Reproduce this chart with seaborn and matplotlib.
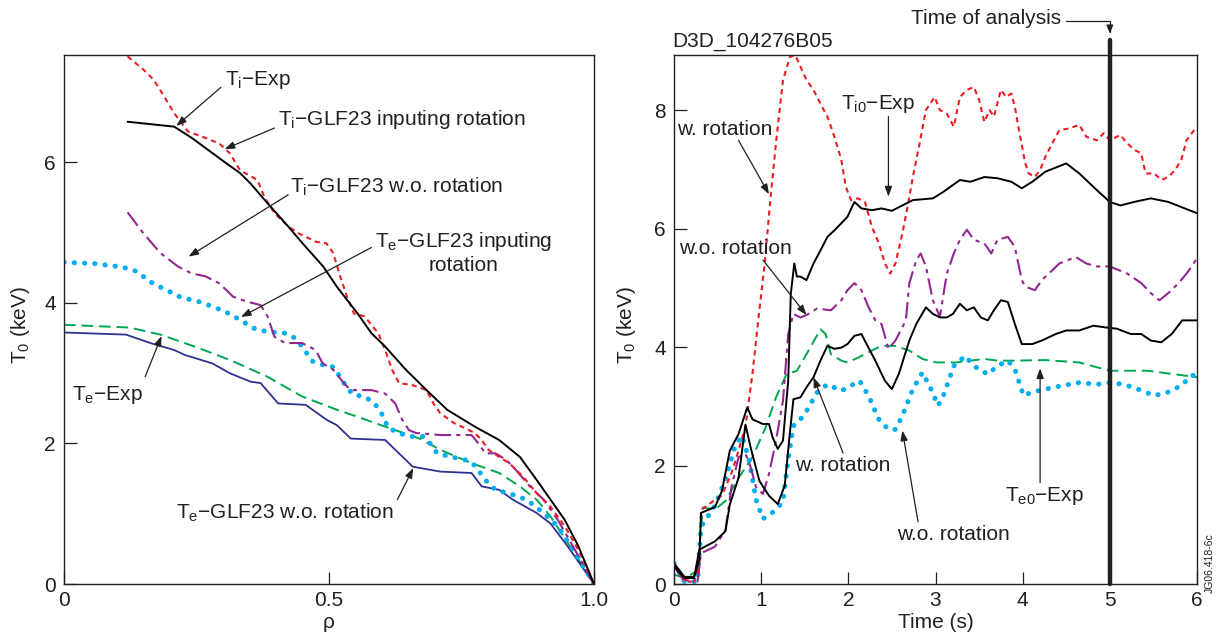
import matplotlib
matplotlib.use("Agg")
import matplotlib.pyplot as plt
import seaborn as sns

# ---------------- data: left panel (profiles vs rho) ----------------
rho_ti_exp = [.12, .208, .241, .306, .332, .352, .384, .423, .45, .489, .515, .554, .58, .606, .645,
              .684, .723, .775, .821, .86, .892, .918, .945, .971, 1.0]
ti_exp = [6.58, 6.51, 6.35, 5.99, 5.85, 5.70, 5.42, 5.09, 4.85, 4.52, 4.23, 3.85, 3.57, 3.38, 3.05,
          2.76, 2.48, 2.24, 2.05, 1.81, 1.48, 1.20, .91, .53, 0]

rho_ti_rot = [.11, .117, .15, .169, .189, .208, .234, .26, .293, .313, .332, .365, .378, .397, .423,
              .443, .476, .495, .508, .521, .534, .547, .567, .583, .593, .606, .619, .632, .658, .684,
              .697, .71, .736, .756, .775, .788, .801, .821, .84, .866, .892, .918, .945, .971, 1.0]
ti_rot = [7.62, 7.53, 7.32, 7.18, 6.94, 6.70, 6.44, 6.37, 6.27, 6.13, 5.89, 5.75, 5.51, 5.28, 5.09,
          4.99, 4.87, 4.85, 4.71, 4.38, 4.09, 3.85, 3.81, 3.66, 3.57, 3.33, 3.05, 2.86, 2.83, 2.76,
          2.57, 2.43, 2.29, 2.22, 2.15, 2.05, 1.91, 1.81, 1.72, 1.53, 1.29, 1.10, .82, .48, 0]

rho_ti_norot = [.12, .15, .182, .215, .241, .267, .293, .319, .345, .371, .384, .397, .417, .449, .475,
                .488, .508, .528, .541, .58, .606, .625, .638, .651, .664, .71, .769, .782, .795, .814,
                .834, .853, .879, .905, .932, .957, 1.0]
ti_norot = [5.29, 4.99, 4.71, 4.52, 4.42, 4.38, 4.28, 4.09, 4.02, 3.97, 3.81, 3.52, 3.43, 3.43, 3.33,
            3.14, 3.05, 2.86, 2.76, 2.76, 2.71, 2.57, 2.34, 2.19, 2.15, 2.12, 2.12, 2.00, 1.86, 1.86,
            1.77, 1.62, 1.39, 1.20, .91, .58, 0]

rho_te_rot = [0, .059, .111, .137, .163, .189, .221, .254, .28, .306, .332, .358, .384, .417, .436,
              .449, .469, .488, .508, .521, .534, .547, .567, .586, .599, .612, .632, .651, .677, .691,
              .704, .73, .756, .775, .795, .814, .84, .873, .905, .932, .957, 1.0]
te_rot = [4.58, 4.56, 4.51, 4.45, 4.30, 4.20, 4.08, 4.02, 3.95, 3.87, 3.76, 3.64, 3.59, 3.57, 3.50,
          3.38, 3.17, 3.12, 3.09, 2.95, 2.79, 2.69, 2.67, 2.57, 2.43, 2.22, 2.15, 2.10, 2.10, 2.00,
          1.86, 1.81, 1.77, 1.69, 1.48, 1.34, 1.29, 1.20, 1.01, .82, .53, 0]

rho_te_exp = [0, .124, .182, .254, .319, .384, .449, .515, .554, .606, .671, .71, .769, .821, .86,
              .892, .918, .951, 1.0]
te_exp = [3.69, 3.65, 3.55, 3.36, 3.17, 2.95, 2.67, 2.48, 2.38, 2.24, 2.07, 1.91, 1.72, 1.58, 1.39,
          1.20, .96, .58, 0]

rho_te_norot = [0, .117, .163, .208, .228, .28, .313, .352, .371, .404, .456, .495, .515, .541, .606,
                .632, .658, .71, .769, .788, .821, .847, .892, .918, .951, 1.0]
te_norot = [3.58, 3.55, 3.43, 3.33, 3.26, 3.14, 3.00, 2.88, 2.86, 2.57, 2.55, 2.34, 2.26, 2.07, 2.05,
            1.86, 1.67, 1.60, 1.58, 1.39, 1.34, 1.20, 1.01, .86, .53, 0]

# ---------------- data: right panel (central values vs time) ----------------
t_ti_rot = [0, .12, .23, .29, .31, .47, .55, .66, .74, .82, .90, .97, 1.04, 1.10, 1.17,
            1.25, 1.33, 1.39, 1.47, 1.52, 1.60, 1.68, 1.76, 1.84, 1.92, 1.97, 2.03, 2.11, 2.19, 2.27,
            2.35, 2.42, 2.48, 2.54, 2.62, 2.68, 2.74, 2.81, 2.89, 2.99, 3.05, 3.13, 3.21, 3.28, 3.36,
            3.44, 3.50, 3.56, 3.62, 3.67, 3.75, 3.81, 3.87, 3.91, 3.95, 4.03, 4.07, 4.14, 4.20, 4.26,
            4.34, 4.42, 4.53, 4.65, 4.73, 4.85, 4.93, 5.0, 5.12, 5.20, 5.28, 5.36, 5.41, 5.51, 5.59,
            5.67, 5.75, 5.82, 5.88, 5.94, 6.0]
ti0_rot = [.35, .07, .04, .3, 1.25, 1.42, 1.5, 1.87, 2.25, 2.66, 3.55, 4.5, 5.4, 6.4, 7.45,
           8.5, 8.9, 8.93, 8.67, 8.51, 8.34, 8.11, 7.89, 7.55, 7.16, 6.71, 6.48, 6.51, 6.45, 6.03,
           5.75, 5.41, 5.24, 5.41, 5.92, 6.37, 6.87, 7.38, 8.0, 8.22, 8.0, 7.94, 7.72, 8.22, 8.34,
           8.39, 8.17, 7.80, 8.0, 7.89, 8.34, 8.22, 8.28, 8.06, 7.72, 7.10, 6.93, 6.87, 6.99, 7.21,
           7.44, 7.66, 7.69, 7.75, 7.55, 7.49, 7.61, 7.49, 7.58, 7.44, 7.33, 7.27, 6.93, 6.93, 6.82,
           6.87, 6.99, 7.16, 7.49, 7.61, 7.72]

t_ti_exp = [0, .12, .23, .29, .31, .47, .55, .64, .74, .84, .90, 1.02, 1.09, 1.13, 1.19,
            1.25, 1.31, 1.34, 1.38, 1.41, 1.45, 1.52, 1.60, 1.68, 1.76, 1.84, 1.92, 1.99, 2.07, 2.15,
            2.27, 2.38, 2.50, 2.62, 2.74, 2.97, 3.09, 3.28, 3.40, 3.56, 3.71, 3.87, 3.99, 4.11, 4.26,
            4.50, 4.65, 4.85, 5.0, 5.12, 5.28, 5.47, 5.67, 5.86, 6.0]
ti0_exp = [.35, .12, .12, .4, 1.2, 1.3, 1.57, 2.25, 2.53, 2.98, 2.78, 2.70, 2.70, 2.48, 2.28,
           2.42, 3.43, 4.9, 5.41, 5.19, 5.19, 5.13, 5.41, 5.63, 5.86, 5.97, 6.09, 6.20, 6.45, 6.34,
           6.31, 6.34, 6.30, 6.39, 6.48, 6.51, 6.62, 6.82, 6.79, 6.87, 6.85, 6.79, 6.68, 6.79, 6.96,
           7.10, 6.93, 6.65, 6.45, 6.39, 6.45, 6.51, 6.45, 6.34, 6.26]

t_te_rot = [0, .12, .23, .29, .47, .59, .64, .74, .82, .88, .98, 1.09, 1.19, 1.27, 1.33,
            1.37, 1.45, 1.52, 1.60, 1.68, 1.76, 1.84, 1.92, 1.99, 2.07, 2.15, 2.21, 2.31, 2.42, 2.50,
            2.58, 2.70, 2.78, 2.89, 2.97, 3.05, 3.13, 3.20, 3.28, 3.36, 3.44, 3.52, 3.60, 3.67, 3.75,
            3.83, 3.91, 3.99, 4.11, 4.22, 4.38, 4.50, 4.65, 4.81, 4.96, 5.08, 5.24, 5.36, 5.47, 5.59,
            5.71, 5.83, 6.0]
te0_rot = [.3, .1, .1, .58, .72, .89, 1.34, 1.79, 2.69, 2.3, 1.74, 1.49, 1.35, 1.66, 2.56,
           3.12, 3.15, 3.32, 3.49, 3.77, 4.02, 3.97, 3.99, 4.05, 4.19, 4.22, 4.05, 3.77, 3.43, 3.29,
           3.55, 4.11, 4.39, 4.67, 4.56, 4.50, 4.50, 4.56, 4.73, 4.62, 4.67, 4.50, 4.45, 4.62, 4.79,
           4.76, 4.39, 4.05, 4.05, 4.11, 4.22, 4.28, 4.28, 4.36, 4.33, 4.31, 4.22, 4.22, 4.11, 4.08,
           4.22, 4.45, 4.45]

t_ti_norot = [0, .12, .27, .31, .47, .59, .66, .74, .82, .88, .94, 1.02, 1.09, 1.17, 1.25,
              1.31, 1.37, 1.45, 1.52, 1.64, 1.80, 1.92, 1.99, 2.07, 2.15, 2.23, 2.31, 2.38, 2.46, 2.54,
              2.66, 2.70, 2.78, 2.83, 2.89, 2.97, 3.05, 3.13, 3.21, 3.28, 3.36, 3.44, 3.56, 3.64, 3.71,
              3.83, 3.91, 3.99, 4.03, 4.14, 4.22, 4.30, 4.42, 4.61, 4.73, 4.85, 5.0, 5.20, 5.36, 5.47,
              5.57, 5.67, 5.79, 5.88, 5.94, 6.0]
ti0_norot = [.3, .04, .04, .52, .63, .91, 1.64, 2.14, 2.2, 1.97, 1.64, 1.52, 1.86, 2.42, 3.09,
             4.22, 4.56, 4.50, 4.54, 4.65, 4.62, 4.79, 4.96, 5.08, 4.96, 4.68, 4.45, 4.39, 3.97, 4.11,
             4.45, 5.08, 5.47, 5.58, 5.36, 4.79, 4.51, 5.24, 5.58, 5.81, 5.98, 5.81, 5.75, 5.58, 5.81,
             5.86, 5.69, 5.13, 5.02, 4.96, 5.13, 5.24, 5.41, 5.52, 5.41, 5.36, 5.36, 5.24, 5.08, 4.91,
             4.79, 4.91, 5.08, 5.24, 5.36, 5.50]

t_te_exp = [0, .12, .27, .33, .47, .59, .74, .90, 1.05, 1.17, 1.29, 1.41, 1.52, 1.68, 1.74,
            1.80, 1.92, 1.99, 2.11, 2.27, 2.38, 2.54, 2.70, 2.85, 3.01, 3.24, 3.40, 3.56, 3.71, 3.87,
            4.26, 4.65, 4.85, 5.0, 5.43, 5.75, 6.0]
te0_exp = [.16, .1, .22, 1.29, 1.26, 1.40, 1.79, 2.14, 2.64, 3.15, 3.54, 3.60, 3.88, 4.30, 4.22,
           3.88, 3.77, 3.74, 3.82, 3.94, 4.02, 4.02, 3.94, 3.80, 3.74, 3.74, 3.77, 3.80, 3.77, 3.77,
           3.78, 3.74, 3.66, 3.60, 3.60, 3.54, 3.49]

t_te_norot = [0, .12, .27, .31, .47, .59, .70, .78, .86, .94, 1.02, 1.13, 1.25, 1.31, 1.37,
              1.49, 1.64, 1.76, 1.92, 2.03, 2.13, 2.23, 2.35, 2.46, 2.54, 2.62, 2.74, 2.85, 2.93, 3.03,
              3.09, 3.21, 3.34, 3.44, 3.60, 3.71, 3.83, 3.91, 4.01, 4.11, 4.26, 4.46, 4.65, 4.85, 5.0,
              5.16, 5.32, 5.51, 5.67, 5.82, 5.94, 6.0]
te0_norot = [.35, .04, .04, .97, 1.32, 1.77, 2.33, 2.50, 2.11, 1.43, 1.10, 1.21, 1.38, 2.11, 2.67,
             2.84, 3.23, 3.37, 3.26, 3.35, 3.43, 3.18, 2.78, 2.61, 2.61, 2.84, 3.29, 3.57, 3.35, 3.01,
             3.18, 3.68, 3.85, 3.68, 3.54, 3.68, 3.77, 3.63, 3.18, 3.24, 3.29, 3.35, 3.40, 3.37, 3.40,
             3.37, 3.29, 3.18, 3.24, 3.35, 3.52, 3.52]

analysis_time = 5.0
left_xticks = [0, 0.5, 1.0]
left_xticklabels = ["0", "0.5", "1.0"]
left_yticks = [0, 2, 4, 6]
right_xticks = [0, 1, 2, 3, 4, 5, 6]
right_yticks = [0, 2, 4, 6, 8]

# ---------------- style ----------------
sns.set_style("ticks")
plt.rcParams['font.family'] = ['Liberation Sans', 'DejaVu Sans']
plt.rcParams['mathtext.fontset'] = 'custom'
plt.rcParams['mathtext.rm'] = 'Liberation Sans'
plt.rcParams['mathtext.it'] = 'Liberation Sans'

INK = '#231f20'
RED = '#ed1c24'
PURPLE = '#92278f'
CYAN = '#00aeef'
GREEN = '#00a651'
NAVY = '#2e3192'
FS = 15

fig = plt.figure(figsize=(12.18, 6.39), dpi=100)
axL = fig.add_axes([64 / 1218, 55 / 639, 530 / 1218, 529 / 639])
axR = fig.add_axes([674 / 1218, 55 / 639, 523 / 1218, 529 / 639])

styles = {
    'red': dict(color=RED, lw=1.5, linestyle=(0, (2.5, 2))),
    'black': dict(color='black', lw=1.4, linestyle='-'),
    'purple': dict(color=PURPLE, lw=1.5, linestyle=(0, (8, 2.5, 2, 2.5))),
    'cyan': dict(color=CYAN, lw=3.6, linestyle=(0, (0.05, 2.0)), dash_capstyle='round'),
    'green': dict(color=GREEN, lw=1.4, linestyle=(0, (6, 3))),
    'navy': dict(color=NAVY, lw=1.3, linestyle='-'),
}


def line(ax, x, y, key):
    sns.lineplot(x=x, y=y, ax=ax, sort=False, estimator=None, legend=False, **styles[key])


# left panel
line(axL, rho_te_exp, te_exp, 'green')
line(axL, rho_te_norot, te_norot, 'navy')
line(axL, rho_te_rot, te_rot, 'cyan')
line(axL, rho_ti_norot, ti_norot, 'purple')
line(axL, rho_ti_rot, ti_rot, 'red')
line(axL, rho_ti_exp, ti_exp, 'black')

# right panel
line(axR, t_te_exp, te0_exp, 'green')
line(axR, t_te_norot, te0_norot, 'cyan')
line(axR, t_ti_norot, ti0_norot, 'purple')
line(axR, t_ti_rot, ti0_rot, 'red')
line(axR, t_te_rot, te0_rot, 'black')
line(axR, t_ti_exp, ti0_exp, 'black')

axL.set_xlim(0, 1.0)
axL.set_ylim(0, 7.53)
axR.set_xlim(0, 6)
axR.set_ylim(0, 8.93)

axL.set_xticks(left_xticks)
axL.set_xticklabels(left_xticklabels)
axL.set_yticks(left_yticks)
axR.set_xticks(right_xticks)
axR.set_yticks(right_yticks)

for ax in (axL, axR):
    for sp in ax.spines.values():
        sp.set_visible(True)
        sp.set_color(INK)
        sp.set_linewidth(1.0)
    ax.tick_params(axis='both', direction='in', length=9, width=0.9, colors=INK,
                   labelsize=FS, labelcolor=INK, top=False, right=False)
    ax.tick_params(axis='x', pad=5)
    ax.tick_params(axis='y', pad=6)
    ax.set_ylabel(r'T$_\mathregular{0}$ (keV)', fontsize=FS, color=INK)

axL.set_xlabel('ρ', fontsize=FS, color=INK)
axR.set_xlabel('Time (s)', fontsize=FS, color=INK)
axL.yaxis.set_label_coords(-0.061, 0.49)
axR.yaxis.set_label_coords(-0.068, 0.49)
axL.xaxis.set_label_coords(0.5, -0.054)
axR.xaxis.set_label_coords(0.5, -0.054)

arrow_kw = dict(arrowstyle='-|>,head_length=0.6,head_width=0.22', color=INK, lw=0.9,
                shrinkA=0, shrinkB=0)


def label(ax, text, pos, tail, head, ha='left', va='center', **kw):
    ax.text(pos[0], pos[1], text, fontsize=FS, color=INK, ha=ha, va=va, **kw)
    ax.annotate('', xy=head, xytext=tail, arrowprops=arrow_kw)


# left annotations
label(axL, 'T$_\\mathregular{i}$−Exp', (.303, 7.18), (.296, 7.07), (.212, 6.52))
label(axL, 'T$_\\mathregular{i}$−GLF23 inputing rotation', (.404, 6.61), (.397, 6.49), (.303, 6.19))
label(axL, 'T$_\\mathregular{i}$−GLF23 w.o. rotation', (.427, 5.66), (.423, 5.54), (.235, 4.66))
label(axL, 'T$_\\mathregular{e}$−GLF23 inputing\nrotation', (.754, 4.72), (.58, 4.79), (.334, 3.80),
      ha='center', multialignment='center', linespacing=1.15)
label(axL, 'T$_\\mathregular{e}$−Exp', (.016, 2.69), (.153, 2.95), (.184, 3.53))
label(axL, 'T$_\\mathregular{e}$−GLF23 w.o. rotation', (.212, 1.01), (.629, 1.20), (.659, 1.65))

# right annotations
label(axR, 'T$_\\mathregular{i0}$−Exp', (1.92, 8.11), (2.46, 7.89), (2.46, 6.54))
label(axR, 'w. rotation', (0.04, 7.67), (0.74, 7.49), (1.09, 6.58))
label(axR, 'w.o. rotation', (0.06, 5.67), (1.02, 5.47), (1.52, 4.54))
label(axR, 'w. rotation', (1.39, 2.0), (1.94, 2.21), (1.60, 3.49))
label(axR, 'w.o. rotation', (2.56, 0.83), (2.80, 1.05), (2.62, 2.59))
label(axR, 'T$_\\mathregular{e0}$−Exp', (3.80, 1.49), (4.20, 1.71), (4.20, 3.64))

# time of analysis marker
axR.axvline(analysis_time, ymin=0, ymax=9.18 / 8.93, clip_on=False, color=INK, lw=3.2)
axR.text(0.453, 1.069, 'Time of analysis', transform=axR.transAxes, fontsize=FS, color=INK,
         ha='left', va='center')
axR.annotate('', xy=(analysis_time, 9.29), xycoords='data', xytext=(0.749, 1.065),
             textcoords='axes fraction', annotation_clip=False,
             arrowprops=dict(arrowstyle='-|>,head_length=0.5,head_width=0.2', color=INK, lw=0.9,
                             shrinkA=0, shrinkB=0,
                             connectionstyle='angle,angleA=0,angleB=90,rad=0'))
axR.text(-0.003, 1.025, 'D3D_104276B05', transform=axR.transAxes, fontsize=FS, color=INK,
         ha='left', va='center')

fig.text(1210 / 1218, 0.118, 'JG06.418-6c', rotation=90, fontsize=7.5, color=INK,
         ha='center', va='center')

fig.savefig('out.png', dpi=100, facecolor='white')
